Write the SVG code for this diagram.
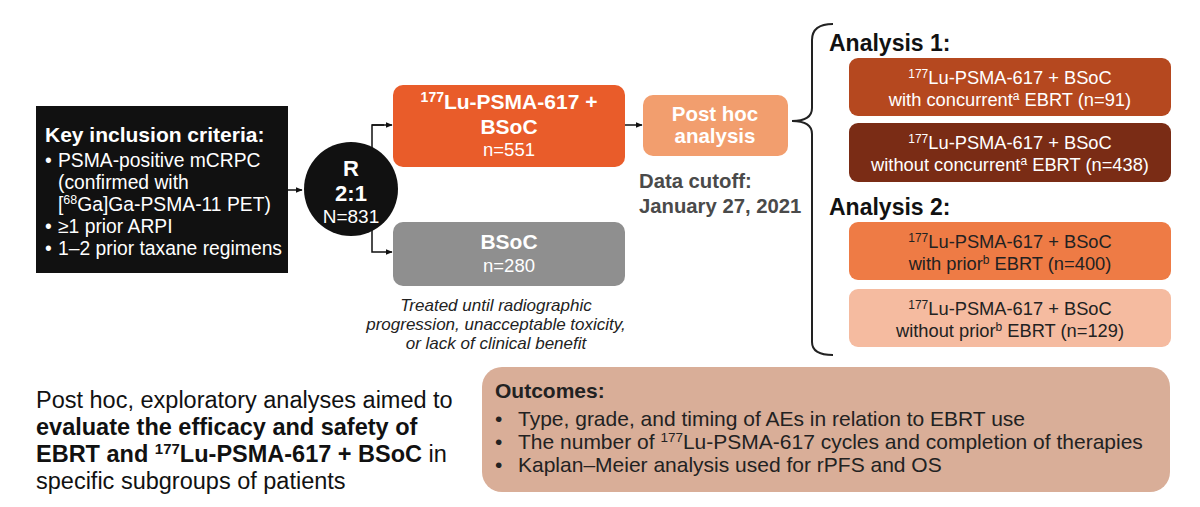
<svg xmlns="http://www.w3.org/2000/svg" width="1200" height="507" viewBox="0 0 1200 507">
<defs>
<style>
text{font-family:"Liberation Sans",Arial,sans-serif}
.b{font-weight:bold}
.w{fill:#fff}
.c{text-anchor:middle}
.con{stroke:#111;stroke-width:1.5;fill:none}
.brace{stroke:#222;stroke-width:2;fill:none}
</style>
<marker id="arr" viewBox="0 0 10 10" refX="9" refY="5" markerWidth="7" markerHeight="7" orient="auto" markerUnits="userSpaceOnUse">
<path d="M0,1 L10,5 L0,9 z" fill="#111"/>
</marker>
</defs>
<rect width="1200" height="507" fill="#fff"/>

<g id="connectors">
<line class="con" x1="288" y1="190" x2="302" y2="190" marker-end="url(#arr)"/>
<polyline class="con" points="384,125 372,125 372,252 392,252" marker-end="url(#arr)"/>
<line class="con" x1="372" y1="125" x2="392" y2="125" marker-end="url(#arr)"/>
<line class="con" x1="625" y1="125" x2="642" y2="125" marker-end="url(#arr)"/>
<path class="brace" d="M833,24 Q812,24 812,40 L812,108 Q812,121 792,121 Q812,121 812,134 L812,342 Q812,355 833,355"/>
</g>

<g id="criteria">
<rect x="36" y="106" width="252" height="167" fill="#111"/>
<text x="45" y="142" class="b w" font-size="21">Key inclusion criteria:</text>
<g class="w" font-size="19.3" fill="#fff">
<text x="45" y="167" class="w">•</text><text x="58" y="167" class="w">PSMA-positive mCRPC</text>
<text x="58" y="189" class="w">(confirmed with</text>
<text x="58" y="211" class="w">[<tspan font-size="12.5" dy="-7">68</tspan><tspan dy="7">Ga]Ga-PSMA-11 PET)</tspan></text>
<text x="45" y="233" class="w">•</text><text x="58" y="233" class="w">≥1 prior ARPI</text>
<text x="45" y="255" class="w">•</text><text x="58" y="255" class="w">1–2 prior taxane regimens</text>
</g>
</g>

<g id="randomize">
<circle cx="351" cy="189" r="47" fill="#111"/>
<text x="351" y="176" class="b w c" font-size="22">R</text>
<text x="351" y="201" class="b w c" font-size="22">2:1</text>
<text x="351" y="223" class="w c" font-size="19">N=831</text>
</g>

<g id="lu-arm">
<rect x="393" y="85" width="232" height="82" rx="10" fill="#E95C2A"/>
<text x="509" y="109" class="b w c" font-size="21"><tspan font-size="14" dy="-7">177</tspan><tspan dy="7">Lu-PSMA-617 +</tspan></text>
<text x="509" y="134" class="b w c" font-size="21">BSoC</text>
<text x="509" y="156" class="w c" font-size="18.5">n=551</text>
</g>

<g id="bsoc-arm">
<rect x="393" y="222" width="232" height="64" rx="10" fill="#8F8F8F"/>
<text x="509" y="249" class="b w c" font-size="21">BSoC</text>
<text x="509" y="272" class="w c" font-size="18.5">n=280</text>
</g>

<g id="treated-note" font-style="italic" font-size="17" fill="#222">
<text x="496" y="311" class="c">Treated until radiographic</text>
<text x="496" y="330" class="c">progression, unacceptable toxicity,</text>
<text x="496" y="349" class="c">or lack of clinical benefit</text>
</g>

<g id="posthoc">
<rect x="643" y="95" width="145" height="61" rx="10" fill="#F29E6E"/>
<text x="715" y="121" class="b w c" font-size="20.5">Post hoc</text>
<text x="715" y="143" class="b w c" font-size="20.5">analysis</text>
</g>

<g id="cutoff" fill="#4a4a4a">
<text x="639" y="188" class="b" font-size="20.3" fill="#4a4a4a">Data cutoff:</text>
<text x="639" y="213" class="b" font-size="20.3" fill="#4a4a4a">January 27, 2021</text>
</g>

<g id="analysis1">
<text x="829" y="51" class="b" font-size="23" fill="#111">Analysis 1:</text>
<rect x="849" y="58" width="322" height="58" rx="9" fill="#B5481F"/>
<text x="1010" y="84" class="w c" font-size="18.3"><tspan font-size="12" dy="-6">177</tspan><tspan dy="6">Lu-PSMA-617 + BSoC</tspan></text>
<text x="1010" y="106" class="w c" font-size="18.3">with concurrent<tspan font-size="12" dy="-6">a</tspan><tspan dy="6"> EBRT (n=91)</tspan></text>
<rect x="849" y="123" width="322" height="59" rx="9" fill="#7A2C15"/>
<text x="1010" y="149" class="w c" font-size="18.3"><tspan font-size="12" dy="-6">177</tspan><tspan dy="6">Lu-PSMA-617 + BSoC</tspan></text>
<text x="1010" y="171" class="w c" font-size="18.3">without concurrent<tspan font-size="12" dy="-6">a</tspan><tspan dy="6"> EBRT (n=438)</tspan></text>
</g>

<g id="analysis2">
<text x="829" y="215" class="b" font-size="23" fill="#111">Analysis 2:</text>
<rect x="849" y="222" width="322" height="58" rx="9" fill="#EE7B45"/>
<text x="1010" y="248" class="c" font-size="18.3" fill="#222"><tspan font-size="12" dy="-6">177</tspan><tspan dy="6">Lu-PSMA-617 + BSoC</tspan></text>
<text x="1010" y="270" class="c" font-size="18.3" fill="#222">with prior<tspan font-size="12" dy="-6">b</tspan><tspan dy="6"> EBRT (n=400)</tspan></text>
<rect x="849" y="289" width="322" height="58" rx="9" fill="#F5BBA0"/>
<text x="1010" y="315" class="c" font-size="18.3" fill="#222"><tspan font-size="12" dy="-6">177</tspan><tspan dy="6">Lu-PSMA-617 + BSoC</tspan></text>
<text x="1010" y="337" class="c" font-size="18.3" fill="#222">without prior<tspan font-size="12" dy="-6">b</tspan><tspan dy="6"> EBRT (n=129)</tspan></text>
</g>

<g id="aim" font-size="23.5" fill="#111">
<text x="36" y="408">Post hoc, exploratory analyses aimed to</text>
<text x="36" y="435" class="b">evaluate the efficacy and safety of</text>
<text x="36" y="462"><tspan class="b">EBRT and </tspan><tspan class="b" font-size="15" dy="-8">177</tspan><tspan class="b" dy="8">Lu-PSMA-617 + BSoC</tspan> in</text>
<text x="36" y="489">specific subgroups of patients</text>
</g>

<g id="outcomes">
<rect x="482" y="367" width="688" height="125" rx="20" fill="#D9AE98"/>
<text x="495" y="398" class="b" font-size="21" fill="#222">Outcomes:</text>
<g font-size="21" fill="#222">
<text x="495" y="426">•</text><text x="518" y="426">Type, grade, and timing of AEs in relation to EBRT use</text>
<text x="495" y="449">•</text><text x="518" y="449">The number of <tspan font-size="13.5" dy="-7">177</tspan><tspan dy="7">Lu-PSMA-617 cycles and completion of therapies</tspan></text>
<text x="495" y="472">•</text><text x="518" y="472">Kaplan–Meier analysis used for rPFS and OS</text>
</g>
</g>
</svg>
